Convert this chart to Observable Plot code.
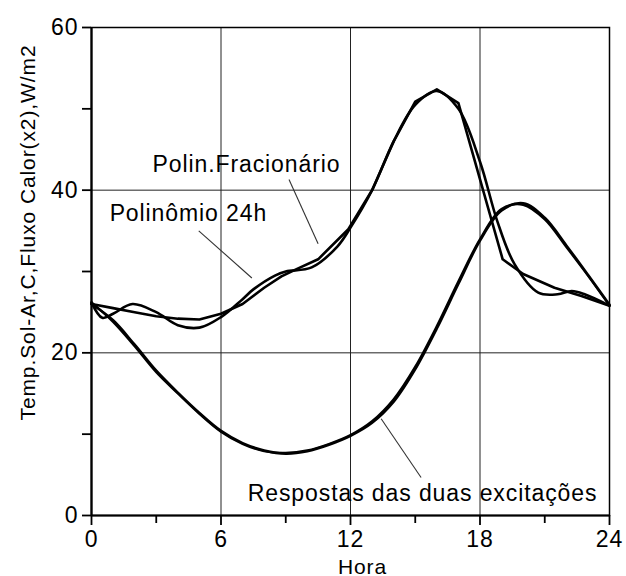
<!DOCTYPE html>
<html>
<head>
<meta charset="utf-8">
<script src="https://cdn.jsdelivr.net/npm/d3@7"></script>
<script src="https://cdn.jsdelivr.net/npm/@observablehq/plot@0.6"></script>
<style>
  html, body { margin: 0; padding: 0; background: white; }
  svg text { letter-spacing: 0.9px; }
</style>
</head>
<body>
<div id="chart"></div>
<script>
// Tick values
const xTicks = [0, 6, 12, 18, 24];
const xMinor = [3, 9, 15, 21];
const yTicks = [0, 20, 40, 60];
const yMinor = [10, 30, 50];
const xGrid = [6, 12, 18];
const yGrid = [20, 40];

// "Polinômio 24h" (wavy fitted curve)
const wavyX = [0, 0.5, 1, 1.9, 3, 4, 5, 6, 7, 7.5, 8.5, 9, 10.2, 11.4, 12, 13, 14, 15, 16, 17, 18, 18.8, 19.6, 20.7, 21.6, 22.25, 22.85, 24];
const wavyY = [26.2, 24.3, 24.8, 26.0, 25.0, 23.4, 23.1, 24.4, 26.6, 27.8, 29.5, 30.0, 30.5, 33.1, 35.4, 40.0, 46.0, 50.5, 52.2, 50.0, 43.5, 36.2, 30.9, 27.4, 27.2, 27.6, 27.2, 25.8];

// Sol-air temperature (polygonal curve, "Polin.Fracionário")
const polyX = [0, 1, 2, 3, 4, 5, 6, 7, 8, 8.8, 9.5, 10.5, 11.9, 13, 14, 15, 16, 17, 19.05, 20, 21.45, 22.7, 24];
const polyY = [26.0, 25.5, 25.0, 24.5, 24.2, 24.1, 24.8, 26.0, 28.0, 29.4, 30.3, 31.5, 35.2, 40.0, 46.0, 50.9, 52.4, 50.7, 31.5, 29.7, 28.0, 27.0, 25.8];

// Heat flux responses (x2) to the two excitations
const respX = [0, 1, 2, 3, 4, 5, 6, 7, 8, 9, 10, 11, 12, 13, 14, 15, 16, 17, 18, 19, 20, 21, 22, 23, 24];
const resp1 = [26.0, 24.0, 21.0, 17.8, 15.1, 12.6, 10.4, 8.9, 8.0, 7.6, 7.9, 8.7, 9.8, 11.4, 14.0, 18.0, 23.0, 28.5, 33.8, 37.5, 38.4, 36.6, 33.2, 29.6, 25.9];
const resp2 = [26.2, 23.8, 20.8, 17.6, 15.0, 12.5, 10.3, 8.8, 7.9, 7.7, 8.0, 8.8, 9.9, 11.6, 14.3, 18.3, 23.3, 28.8, 34.0, 37.7, 38.2, 36.4, 33.0, 29.5, 25.8];

// Annotations (data coordinates)
const labelText = ["Polin.Fracionário", "Polinômio 24h", "Respostas das duas excitações"];
const labelX = [2.83, 0.84, 7.24];
const labelY = [43.2, 37.1, 2.7];
const leaderX1 = [9.15, 4.97, 15.27];
const leaderY1 = [41.3, 35.0, 4.67];
const leaderX2 = [10.5, 7.43, 13.42];
const leaderY2 = [33.4, 29.2, 11.9];

const yLabel = "Temp.Sol-Ar,C,Fluxo Calor(x2),W/m2";
const xLabel = "Hora";

const toPts = (xs, ys) => xs.map((x, i) => ({x, y: ys[i]}));
const annotations = labelText.map((t, i) => ({t, x: labelX[i], y: labelY[i]}));
const leaders = leaderX1.map((x1, i) => ({x1, y1: leaderY1[i], x2: leaderX2[i], y2: leaderY2[i]}));

const chart = Plot.plot({
  width: 626,
  height: 576,
  marginLeft: 91,
  marginRight: 17,
  marginTop: 27,
  marginBottom: 61,
  x: {domain: [0, 24]},
  y: {domain: [0, 60]},
  style: {fontFamily: "'Liberation Sans', Arial, sans-serif", background: "white", color: "black"},
  marks: [
    Plot.gridX(xGrid, {stroke: "#222", strokeOpacity: 1, strokeWidth: 1}),
    Plot.gridY(yGrid, {stroke: "#222", strokeOpacity: 1, strokeWidth: 1}),
    Plot.frame({stroke: "black", strokeWidth: 1.5}),
    Plot.ruleX([0], {stroke: "black", strokeWidth: 2.2}),
    Plot.ruleY([0], {stroke: "black", strokeWidth: 2.2}),
    Plot.axisX(xTicks, {tickSize: 10, tickPadding: 5, fontSize: 23, strokeWidth: 1.8, label: null}),
    Plot.axisX(xMinor, {tickSize: 8, strokeWidth: 1.8, tickFormat: () => "", label: null}),
    Plot.axisY(yTicks, {tickSize: 9, tickPadding: 4, fontSize: 23, strokeWidth: 1.8, label: null}),
    Plot.axisY(yMinor, {tickSize: 9, strokeWidth: 1.8, tickFormat: () => "", label: null}),
    Plot.line(toPts(polyX, polyY), {x: "x", y: "y", stroke: "black", strokeWidth: 2.6, curve: "linear"}),
    Plot.line(toPts(wavyX, wavyY), {x: "x", y: "y", stroke: "black", strokeWidth: 2.6, curve: "catmull-rom"}),
    Plot.line(toPts(respX, resp1), {x: "x", y: "y", stroke: "black", strokeWidth: 2.6, curve: "catmull-rom"}),
    Plot.line(toPts(respX, resp2), {x: "x", y: "y", stroke: "black", strokeWidth: 2.2, curve: "catmull-rom"}),
    Plot.link(leaders, {x1: "x1", y1: "y1", x2: "x2", y2: "y2", stroke: "#333", strokeWidth: 1.1}),
    Plot.text(annotations, {x: "x", y: "y", text: "t", textAnchor: "start", fontSize: 23, fill: "black"}),
    Plot.text([yLabel], {frameAnchor: "left", textAnchor: "middle", rotate: -90, dx: -63, dy: -39, fontSize: 21, fill: "black"}),
    Plot.text([xLabel], {frameAnchor: "bottom", dx: 12, dy: 58, fontSize: 21, fill: "black"})
  ]
});
document.getElementById("chart").appendChild(chart);
</script>
</body>
</html>
